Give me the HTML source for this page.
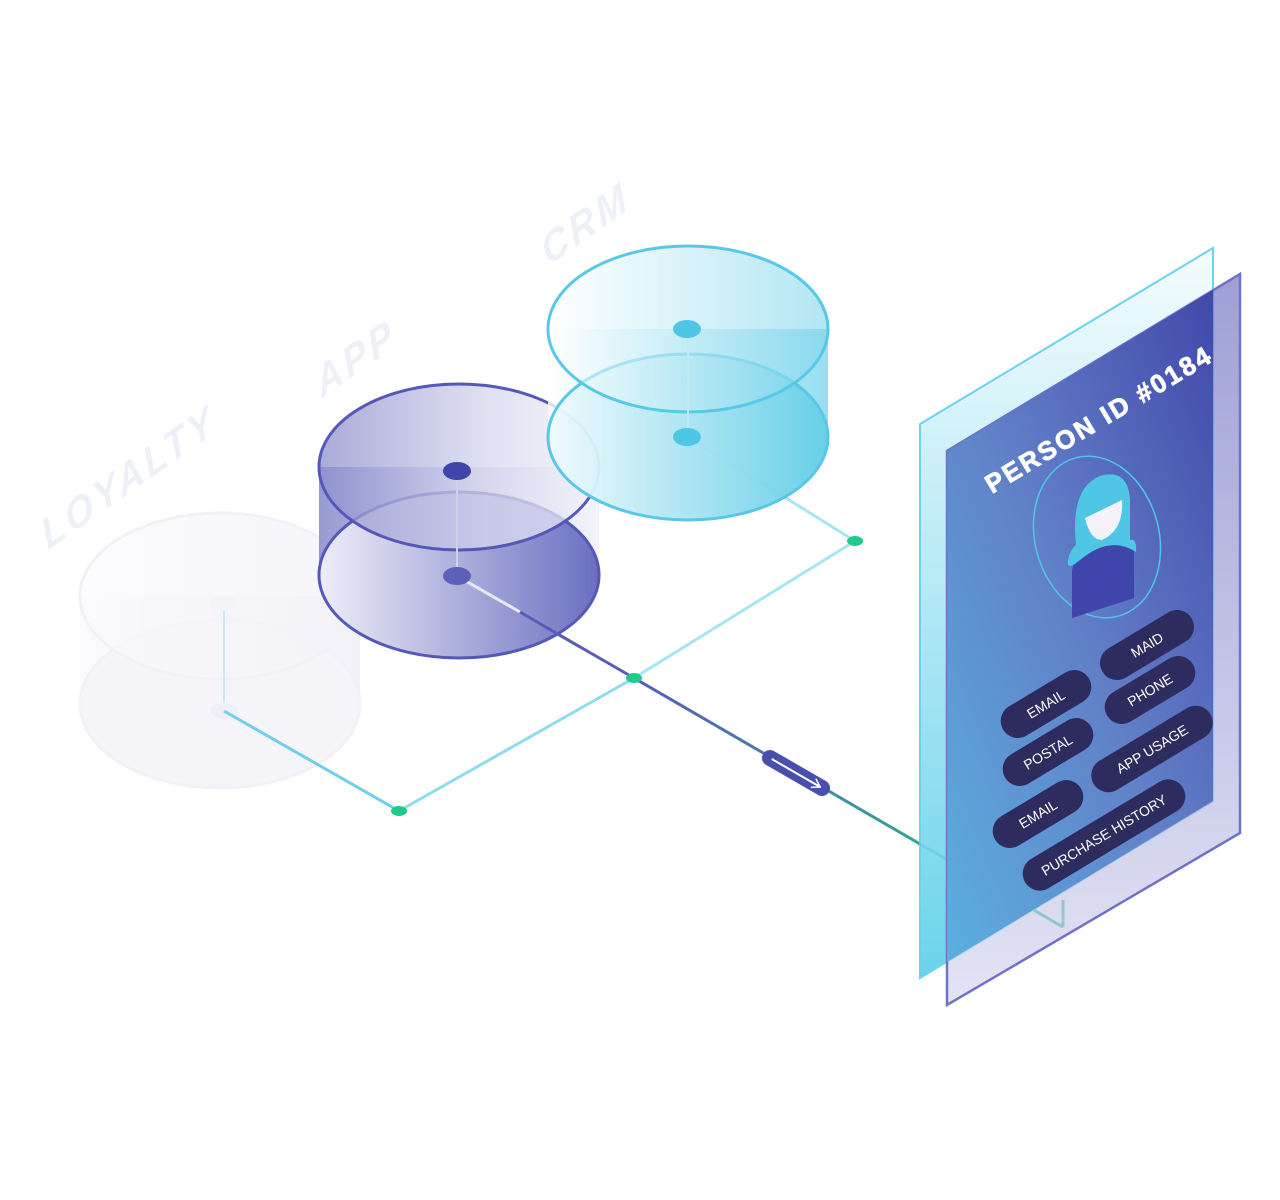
<!DOCTYPE html>
<html><head><meta charset="utf-8"><style>html,body{margin:0;padding:0;background:#fff;}svg{display:block}</style></head>
<body>
<svg width="1280" height="1200" viewBox="0 0 1280 1200" xmlns="http://www.w3.org/2000/svg" font-family="Liberation Sans, sans-serif">
<defs>
<linearGradient id="crm" x1="0" y1="0" x2="1" y2="0"><stop offset="0" stop-color="#ffffff"/><stop offset="1" stop-color="#7fd6ec"/></linearGradient>
<linearGradient id="crmb" x1="0" y1="0" x2="1" y2="0"><stop offset="0" stop-color="#eefafd"/><stop offset="1" stop-color="#5ccbe6"/></linearGradient>
<linearGradient id="app" x1="0" y1="0" x2="1" y2="0"><stop offset="0" stop-color="#8c8fcc"/><stop offset="0.6" stop-color="#d6d7ee"/><stop offset="1" stop-color="#f2f2fa"/></linearGradient>
<linearGradient id="appb" x1="0" y1="0" x2="1" y2="0"><stop offset="0" stop-color="#eeeef8"/><stop offset="1" stop-color="#6b6fc0"/></linearGradient>
<linearGradient id="loy" x1="0" y1="0" x2="1" y2="0"><stop offset="0" stop-color="#fbfbfe"/><stop offset="1" stop-color="#f0f0f7"/></linearGradient>
<linearGradient id="back" x1="0" y1="0" x2="0" y2="1"><stop offset="0" stop-color="#f4fcfe"/><stop offset="1" stop-color="#5ccfea"/></linearGradient>
<linearGradient id="front" x1="0" y1="0" x2="0" y2="1"><stop offset="0" stop-color="#6a6dc0"/><stop offset="1" stop-color="#d4d5ef"/></linearGradient>
<linearGradient id="card" x1="1" y1="0" x2="0" y2="1"><stop offset="0" stop-color="#3e44a8"/><stop offset="0.5" stop-color="#5d7cc6"/><stop offset="1" stop-color="#57aee0"/></linearGradient>
<linearGradient id="grn" x1="0" y1="0" x2="1" y2="0"><stop offset="0" stop-color="#5a5cb6"/><stop offset="1" stop-color="#20c98a"/></linearGradient>
</defs>

<g fill="#eef0f8" font-weight="bold" font-style="italic" font-size="40" letter-spacing="4">
<text transform="translate(48,550) rotate(-35) skewX(-15)">LOYALTY</text>
<text transform="translate(322,398) rotate(-35) skewX(-15)">APP</text>
<text transform="translate(548,266) rotate(-35) skewX(-15)">CRM</text>
</g>

<g opacity="0.9">
<path d="M80,596 L80,704 A140,84 0 0 0 360,704 L360,596 Z" fill="url(#loy)"/>
<ellipse cx="220" cy="704" rx="140" ry="84" fill="#f3f3f9" stroke="#f0f0f6" stroke-width="3"/>
<ellipse cx="220" cy="596" rx="140" ry="83" fill="url(#loy)" fill-opacity="0.7" stroke="#f0f0f6" stroke-width="3"/>
<line x1="224" y1="603" x2="224" y2="711" stroke="#bfe6f2" stroke-width="2"/>
<ellipse cx="224" cy="603" rx="14" ry="8" fill="#f2f2f8"/>
<ellipse cx="224" cy="711" rx="14" ry="8" fill="#eeeef6"/>
</g>

<g fill="none" stroke-width="3">
<line x1="224" y1="711" x2="399" y2="811" stroke="#6fd0ea"/>
<line x1="399" y1="811" x2="634" y2="678" stroke="#8fdcef"/>
<line x1="634" y1="678" x2="855" y2="541" stroke="#a9e4f2"/>
<line x1="688" y1="437" x2="855" y2="541" stroke="#a9e4f2"/>
<line x1="457" y1="576" x2="634" y2="678" stroke="#5a5cb6"/>
<line x1="634" y1="678" x2="1063" y2="927" stroke="url(#grn)"/>
<line x1="1063" y1="927" x2="1063" y2="900" stroke="#3cbf9a"/>
</g>
<ellipse cx="399" cy="811" rx="8" ry="5" fill="#1fcb8a"/>
<ellipse cx="634" cy="678" rx="8" ry="5" fill="#1fcb8a"/>
<ellipse cx="855" cy="541" rx="8" ry="5" fill="#1fcb8a"/>
<g transform="translate(796,773) rotate(30)">
<rect x="-38" y="-8" width="76" height="16" rx="8" fill="#4a4fae"/>
<line x1="-28" y1="0" x2="28" y2="0" stroke="#fff" stroke-width="2"/>
<path d="M20,-5 L28,0 L20,5" stroke="#fff" stroke-width="1.5" fill="none"/>
</g>

<path d="M319,467 L319,575 A140,83 0 0 0 599,575 L599,467 Z" fill="url(#app)" opacity="0.9"/>
<ellipse cx="459" cy="575" rx="140" ry="83" fill="url(#appb)" stroke="#5558b8" stroke-width="3"/>
<line x1="457" y1="576" x2="520" y2="612" stroke="#e8e8f4" stroke-width="3"/>
<line x1="520" y1="612" x2="580" y2="647" stroke="#5a5cb6" stroke-width="3"/>
<ellipse cx="459" cy="467" rx="140" ry="83" fill="url(#app)" fill-opacity="0.75" stroke="#5558b8" stroke-width="3"/>
<line x1="457" y1="471" x2="457" y2="576" stroke="#d0d0e8" stroke-width="2"/>
<ellipse cx="457" cy="471" rx="14" ry="9" fill="#3f45aa"/>
<ellipse cx="457" cy="576" rx="14" ry="9" fill="#5c60bb"/>

<path d="M548,329 L548,437 A140,83 0 0 0 828,437 L828,329 Z" fill="url(#crm)" opacity="0.8"/>
<ellipse cx="688" cy="437" rx="140" ry="83" fill="url(#crmb)" fill-opacity="0.8" stroke="#57c9e6" stroke-width="3"/>
<ellipse cx="688" cy="329" rx="140" ry="83" fill="url(#crm)" fill-opacity="0.6" stroke="#57c9e6" stroke-width="3"/>
<line x1="688" y1="329" x2="688" y2="437" stroke="#bfe9f4" stroke-width="2"/>
<ellipse cx="687" cy="329" rx="14" ry="9" fill="#4fc6e6"/>
<ellipse cx="687" cy="437" rx="14" ry="9" fill="#4fc6e6"/>

<polygon points="920,424 1213,248 1213,801 920,978" fill="url(#back)" stroke="#5ccfea" stroke-width="2" opacity="0.9"/>
<polygon points="947,451 1240,274 1240,833 947,1005" fill="url(#front)" fill-opacity="0.65" stroke="#6f72c8" stroke-width="2.5"/>
<polygon points="947,451 1213,290 1213,801 947,962" fill="url(#card)" opacity="0.95"/>
<text transform="translate(992,494) rotate(-31)" fill="#fff" font-weight="bold" font-size="26" letter-spacing="2.5" stroke="#fff" stroke-width="0.8">PERSON ID #0184</text>

<ellipse cx="1097" cy="537" rx="62" ry="82" transform="rotate(-15 1097 537)" fill="none" stroke="#4fc6e6" stroke-width="1.5"/>
<path d="M1072,618 L1072,570 Q1078,545 1108,538 Q1132,535 1134,550 L1134,598 Z" fill="#3f45aa"/>
<path d="M1076,545 Q1070,488 1100,476 Q1128,468 1130,500 L1130,540 Q1137,538 1136,552 Q1110,535 1080,560 Q1066,572 1068,560 Q1070,550 1076,545 Z" fill="#4fc6e6"/>
<path d="M1085,518 L1122,500 Q1124,530 1102,540 Q1090,540 1085,518 Z" fill="#f2f2f8"/>

<g font-size="14" fill="#fff">
<g transform="translate(1147,645) rotate(-31)"><rect x="-52" y="-17" width="104" height="34" rx="17" fill="#2e2c5f"/><text text-anchor="middle" y="5">MAID</text></g>
<g transform="translate(1150,690) rotate(-31)"><rect x="-50" y="-17" width="100" height="34" rx="17" fill="#2e2c5f"/><text text-anchor="middle" y="5">PHONE</text></g>
<g transform="translate(1046,704) rotate(-31)"><rect x="-50" y="-17" width="100" height="34" rx="17" fill="#2e2c5f"/><text text-anchor="middle" y="5">EMAIL</text></g>
<g transform="translate(1048,752) rotate(-31)"><rect x="-50" y="-17" width="100" height="34" rx="17" fill="#2e2c5f"/><text text-anchor="middle" y="5">POSTAL</text></g>
<g transform="translate(1152,749) rotate(-31)"><rect x="-68" y="-17" width="136" height="34" rx="17" fill="#2e2c5f"/><text text-anchor="middle" y="5">APP USAGE</text></g>
<g transform="translate(1038,814) rotate(-31)"><rect x="-50" y="-17" width="100" height="34" rx="17" fill="#2e2c5f"/><text text-anchor="middle" y="5">EMAIL</text></g>
<g transform="translate(1104,835) rotate(-31)"><rect x="-92" y="-17" width="184" height="34" rx="17" fill="#2e2c5f"/><text text-anchor="middle" y="5">PURCHASE HISTORY</text></g>
</g>
</svg>
</body></html>
